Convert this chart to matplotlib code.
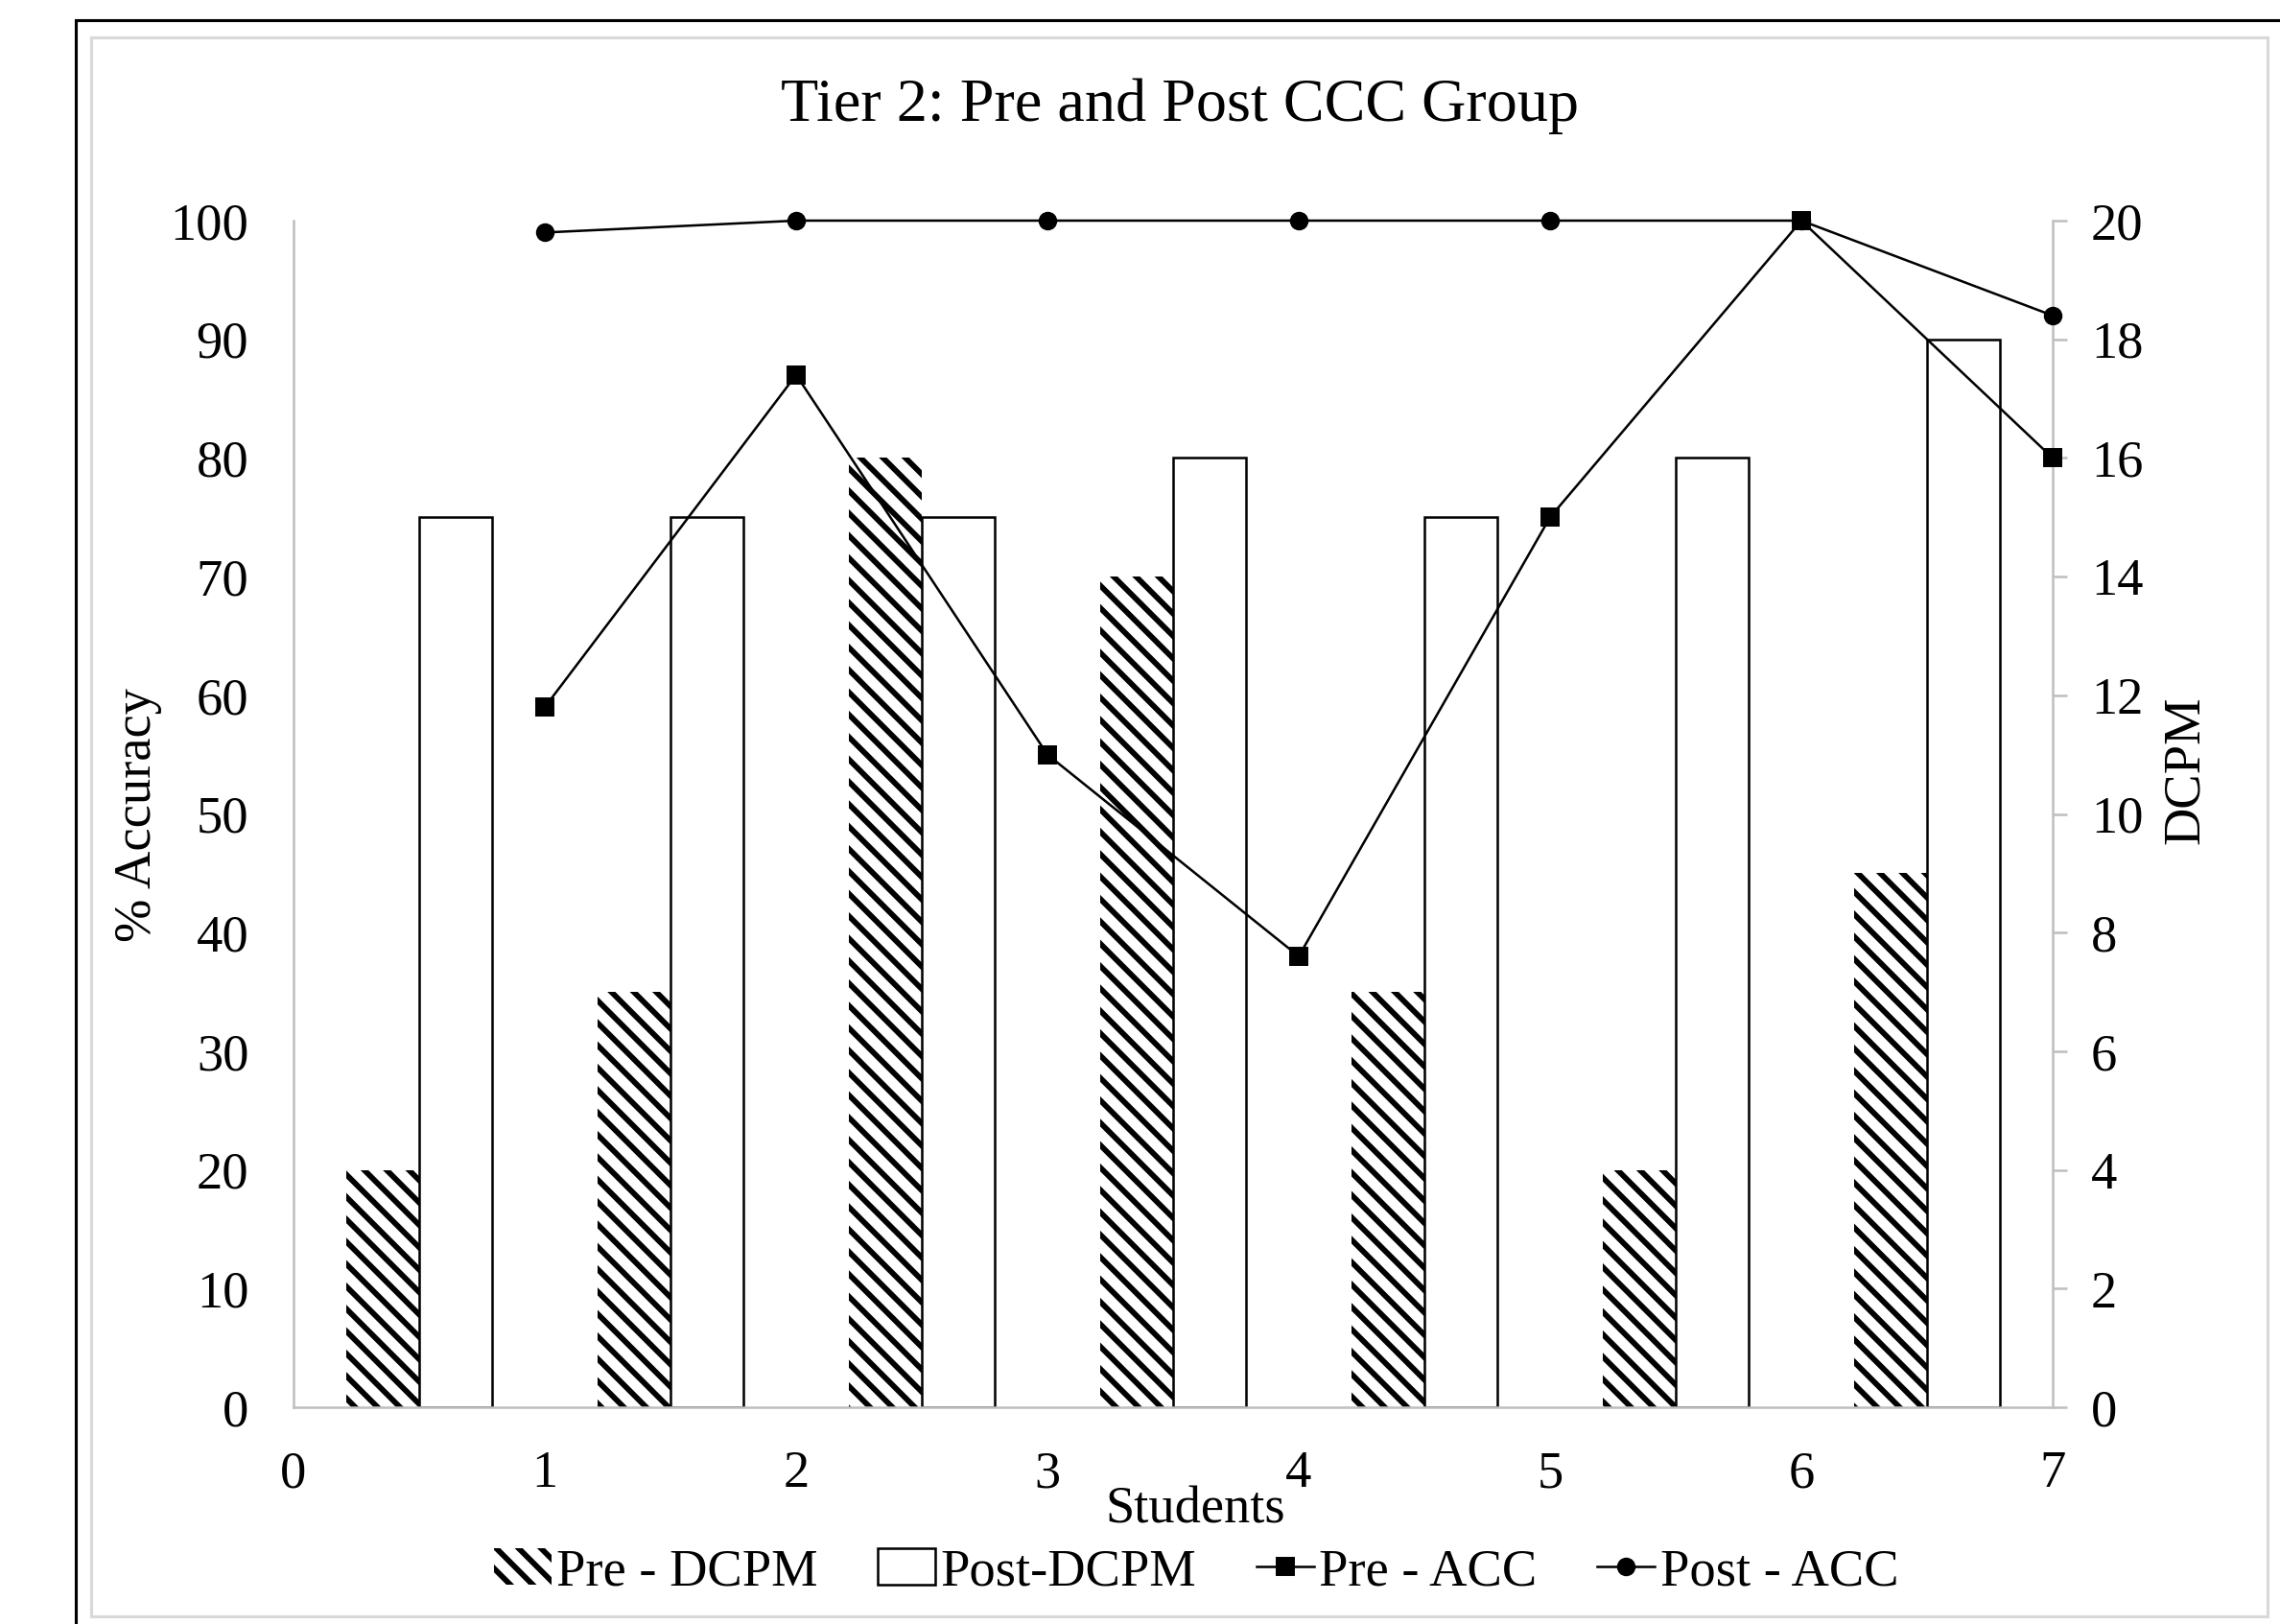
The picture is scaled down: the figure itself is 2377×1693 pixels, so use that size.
import matplotlib
matplotlib.use("Agg")
import matplotlib.pyplot as plt
import numpy as np
from matplotlib.patches import Rectangle

plt.rcParams['font.family'] = ['Liberation Serif', 'DejaVu Serif']
plt.rcParams['hatch.linewidth'] = 3.0

# data
students = [1, 2, 3, 4, 5, 6, 7]
pre_dcpm = [4, 7, 16, 14, 7, 4, 9]
post_dcpm = [15, 15, 15, 16, 15, 16, 18]
pre_acc = [59, 87, 55, 38, 75, 100, 80]
post_acc = [99, 100, 100, 100, 100, 100, 92]
acc_ticks = list(range(0, 101, 10))
dcpm_ticks = list(range(0, 21, 2))
x_ticks = list(range(0, 8))

DPI = 140
W, H = 2377, 1693
fig = plt.figure(figsize=(W / DPI, H / DPI), dpi=DPI)
fig.patch.set_facecolor('white')

def fx(px):
    return px / W

def fy(py):
    return 1 - py / H

# outer frames (black outer box, grey inner box)
fig.patches.append(Rectangle((fx(79), fy(1720)), fx(2400 - 79), fy(21) - fy(1720),
                             transform=fig.transFigure, fill=False, edgecolor='black',
                             linewidth=1.6, zorder=0))
fig.patches.append(Rectangle((fx(95), fy(1685)), fx(2364 - 95), fy(39) - fy(1685),
                             transform=fig.transFigure, fill=False, edgecolor='#d9d9d9',
                             linewidth=1.6, zorder=0))

left, right, top, bottom = 306, 2140, 230, 1467
ax = fig.add_axes([fx(left), fy(bottom), fx(right - left), fy(top) - fy(bottom)])
ax2 = ax.twinx()

grey = '#bfbfbf'
fs = 28

# bars on the DCPM axis
bw = 0.29
x = np.array(students) - 0.5
ax2.bar(x - bw / 2, pre_dcpm, width=bw, facecolor='white', edgecolor='black',
        hatch='\\\\', linewidth=0, label='Pre - DCPM')
ax2.bar(x + bw / 2, post_dcpm, width=bw, facecolor='white', edgecolor='black',
        linewidth=1.3, label='Post-DCPM')

# lines on the accuracy axis
ax.plot(students, pre_acc, color='black', linewidth=1.3, marker='s', markersize=9.5,
        label='Pre - ACC', clip_on=False, zorder=5)
ax.plot(students, post_acc, color='black', linewidth=1.3, marker='o', markersize=9,
        label='Post - ACC', clip_on=False, zorder=5)

ax.set_zorder(ax2.get_zorder() + 1)
ax.patch.set_visible(False)

ax.set_xlim(0, 7)
ax.set_ylim(0, 100)
ax2.set_ylim(0, 20)
ax.set_xticks(x_ticks)
ax.set_yticks(acc_ticks)
ax2.set_yticks(dcpm_ticks)

for a in (ax, ax2):
    for s in a.spines.values():
        s.set_visible(False)
ax.spines['left'].set_visible(True)
ax.spines['left'].set_color(grey)
ax.spines['left'].set_linewidth(1.3)
ax.spines['bottom'].set_visible(True)
ax.spines['bottom'].set_color(grey)
ax.spines['bottom'].set_linewidth(1.3)
ax2.spines['right'].set_visible(True)
ax2.spines['right'].set_color(grey)
ax2.spines['right'].set_linewidth(1.3)

ax.tick_params(axis='y', length=0, pad=24, labelsize=fs)
ax.tick_params(axis='x', length=0, pad=23, labelsize=fs)
ax2.tick_params(axis='y', length=7.5, width=1.3, color=grey, direction='out', pad=13, labelsize=fs)

fig.text(fx(1230), fy(111), 'Tier 2: Pre and Post CCC Group', ha='center', va='center', fontsize=33)
fig.text(fx(1246), fy(1574), 'Students', ha='center', va='center', fontsize=fs)
fig.text(fx(144), fy(849), '% Accuracy', ha='center', va='center', rotation=90, fontsize=fs)
fig.text(fx(2279), fy(803), 'DCPM', ha='center', va='center', rotation=90, fontsize=fs)

h1, l1 = ax2.get_legend_handles_labels()
h2, l2 = ax.get_legend_handles_labels()
fig.legend(h1 + h2, l1 + l2, loc='center', bbox_to_anchor=(fx(1247), fy(1639)), ncol=4,
           frameon=False, fontsize=fs, handlelength=1.1, handletextpad=0.1,
           columnspacing=1.15, numpoints=1)

fig.savefig('out.png', dpi=DPI)
